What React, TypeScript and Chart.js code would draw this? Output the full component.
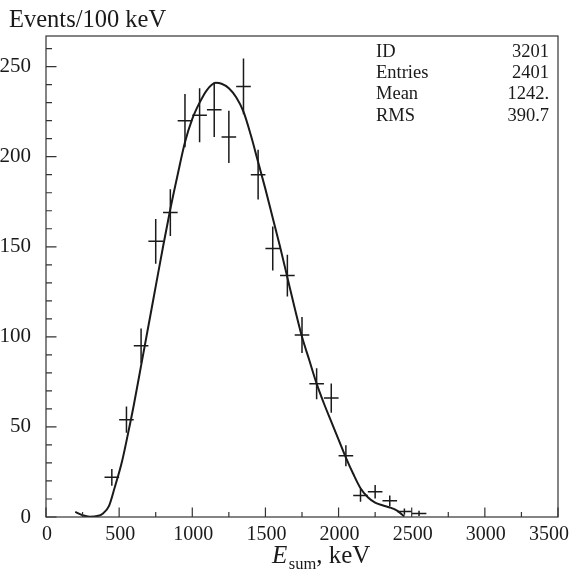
import React, { useEffect, useRef } from "react";
import { Chart, registerables } from "chart.js";

Chart.register(...registerables);

// Histogram bins (keV) and counts with errors
const binCenters = [450, 550, 650, 750, 850, 950, 1050, 1150, 1250, 1350, 1450, 1550, 1650, 1750, 1850, 1950, 2050, 2150, 2250, 2350, 2450, 2550];
const counts = [22, 54, 95, 153, 169, 220, 223, 226, 211, 239, 190, 149, 134, 101, 74, 66, 34, 12, 14, 9, 3, 2];
const errors = [4.7, 7.3, 9.7, 12.4, 13, 14.8, 15, 15, 14.5, 15.5, 13.8, 12.2, 11.6, 10, 8.6, 8.1, 5.8, 3.5, 3.7, 3, 1.7, 1.4];
const binHalfWidth = 50;

// Fitted curve
const curveX = [200, 250, 300, 350, 390, 430, 470, 520, 560, 600, 650, 700, 750, 800, 850, 900, 950, 1000, 1050, 1100, 1160, 1200, 1250, 1300, 1350, 1400, 1450, 1500, 1550, 1600, 1650, 1700, 1750, 1800, 1850, 1900, 1950, 2000, 2050, 2100, 2150, 2200, 2250, 2300, 2350, 2400, 2450];
const curveY = [2.8, 1, 0.2, 0.5, 2, 6, 16.5, 31, 46, 62, 84, 106, 128, 150, 171, 190, 208, 221, 230, 237, 241, 240.5, 238, 233, 225, 212, 197, 182, 166, 150, 133, 116, 100, 87, 74, 63, 53, 43, 33, 24, 16, 11, 8, 6.5, 5.3, 3.5, 0.3];

// Axis ticks
const xMajorTicks = [0, 500, 1000, 1500, 2000, 2500, 3000, 3500];
const xTickLabels = ["0", "500", "1000", "1500", "2000", "2500", "3000", "3500"];
const xMinorTicks = [250, 750, 1250, 1750, 2250, 2750, 3250];
const yMajorTicks = [0, 50, 100, 150, 200, 250];
const yMinorTicks = [10, 20, 30, 40, 60, 70, 80, 90, 110, 120, 130, 140, 160, 170, 180, 190, 210, 220, 230, 240, 260];

// Stats box
const statLabels = ["ID", "Entries", "Mean", "RMS"];
const statValues = ["3201", "2401", "1242.", "390.7"];

const yTitle = "Events/100 keV";

const SERIF = "'Liberation Serif', 'Times New Roman', serif";
const INK = "#1a1a1a";

const overlay = {
  id: "overlay",
  afterDatasetsDraw(chart: any) {
    const { ctx, chartArea: a, scales, width } = chart;
    const x = scales.x;
    const y = scales.y;
    ctx.save();
    // error bar crosses
    ctx.strokeStyle = INK;
    ctx.lineWidth = 1.5;
    binCenters.forEach((c, i) => {
      const px = x.getPixelForValue(c);
      const py = y.getPixelForValue(counts[i]);
      ctx.beginPath();
      ctx.moveTo(x.getPixelForValue(c - binHalfWidth), py);
      ctx.lineTo(x.getPixelForValue(c + binHalfWidth), py);
      ctx.moveTo(px, y.getPixelForValue(Math.max(0, counts[i] - errors[i])));
      ctx.lineTo(px, y.getPixelForValue(counts[i] + errors[i]));
      ctx.stroke();
    });
    // frame
    ctx.strokeStyle = "#333";
    ctx.lineWidth = 1.2;
    ctx.strokeRect(a.left, a.top, a.right - a.left, a.bottom - a.top);
    // inward ticks
    ctx.beginPath();
    xMajorTicks.forEach((v) => {
      const px = x.getPixelForValue(v);
      ctx.moveTo(px, a.bottom);
      ctx.lineTo(px, a.bottom - 9.5);
    });
    xMinorTicks.forEach((v) => {
      const px = x.getPixelForValue(v);
      ctx.moveTo(px, a.bottom);
      ctx.lineTo(px, a.bottom - 5);
    });
    yMajorTicks.forEach((v) => {
      const py = y.getPixelForValue(v);
      ctx.moveTo(a.left, py);
      ctx.lineTo(a.left + 10.5, py);
    });
    yMinorTicks.forEach((v) => {
      const py = y.getPixelForValue(v);
      ctx.moveTo(a.left, py);
      ctx.lineTo(a.left + 6, py);
    });
    ctx.stroke();

    ctx.fillStyle = INK;
    ctx.textBaseline = "alphabetic";

    // x tick labels (kept inside the canvas at the right edge)
    ctx.font = `20px ${SERIF}`;
    ctx.textAlign = "left";
    xMajorTicks.forEach((v, i) => {
      const label = xTickLabels[i];
      const w = ctx.measureText(label).width;
      let left = x.getPixelForValue(v) - w / 2 + 1;
      if (left + w > width - 6) left = width - 6 - w;
      ctx.fillText(label, left, a.bottom + 23);
    });

    // y title
    ctx.textAlign = "left";
    ctx.font = `24.5px ${SERIF}`;
    ctx.fillText(yTitle, 9, 27);

    // stats
    ctx.font = `18.5px ${SERIF}`;
    statLabels.forEach((s, i) => {
      const by = 56.7 + i * 21.3;
      ctx.textAlign = "left";
      ctx.fillText(s, 376, by);
      ctx.textAlign = "right";
      ctx.fillText(statValues[i], 549, by);
    });

    // x title: E_sum, keV
    ctx.textAlign = "left";
    let tx = 272;
    ctx.font = `italic 25px ${SERIF}`;
    ctx.fillText("E", tx, 563);
    tx += ctx.measureText("E").width + 1.5;
    ctx.font = `16.5px ${SERIF}`;
    ctx.fillText("sum", tx, 568.5);
    tx += ctx.measureText("sum").width;
    ctx.font = `25px ${SERIF}`;
    ctx.fillText(", keV", tx, 563);
    ctx.restore();
  },
};

export default function App() {
  const ref = useRef<HTMLCanvasElement | null>(null);
  useEffect(() => {
    if (!ref.current) return;
    const chart = new Chart(ref.current, {
      type: "line",
      data: {
        datasets: [
          {
            label: "fit",
            data: curveX.map((v, i) => ({ x: v, y: curveY[i] })),
            borderColor: INK,
            borderWidth: 2,
            pointRadius: 0,
            fill: false,
            cubicInterpolationMode: "monotone",
          },
          {
            label: "data",
            data: binCenters.map((v, i) => ({ x: v, y: counts[i] })),
            showLine: false,
            pointRadius: 0,
            borderColor: INK,
          },
        ],
      },
      options: {
        responsive: false,
        animation: false,
        events: [],
        layout: { padding: { top: 36, right: 17, left: 0, bottom: 0 } },
        plugins: { legend: { display: false }, tooltip: { enabled: false } },
        scales: {
          x: {
            type: "linear",
            min: 0,
            max: 3500,
            grid: { display: false },
            border: { display: false },
            afterBuildTicks: (s: any) => {
              s.ticks = xMajorTicks.map((v) => ({ value: v }));
            },
            afterFit: (s: any) => {
              s.height = 58;
              s.paddingLeft = 0;
              s.paddingRight = 0;
            },
            ticks: { display: false },
          },
          y: {
            type: "linear",
            min: 0,
            max: 267,
            grid: { display: false },
            border: { display: false },
            afterBuildTicks: (s: any) => {
              s.ticks = yMajorTicks.map((v) => ({ value: v }));
            },
            afterFit: (s: any) => {
              s.width = 46;
              s.paddingTop = 0;
              s.paddingBottom = 0;
            },
            ticks: {
              padding: 7,
              color: INK,
              font: { family: SERIF, size: 21 },
              callback: (v: any) => String(v),
            },
          },
        },
      },
      plugins: [overlay],
    } as any);
    return () => chart.destroy();
  }, []);
  return (
    <div style={{ position: "absolute", left: 0, top: 0, width: 575, height: 575, background: "#fff" }}>
      <canvas ref={ref} width={575} height={575} />
    </div>
  );
}
